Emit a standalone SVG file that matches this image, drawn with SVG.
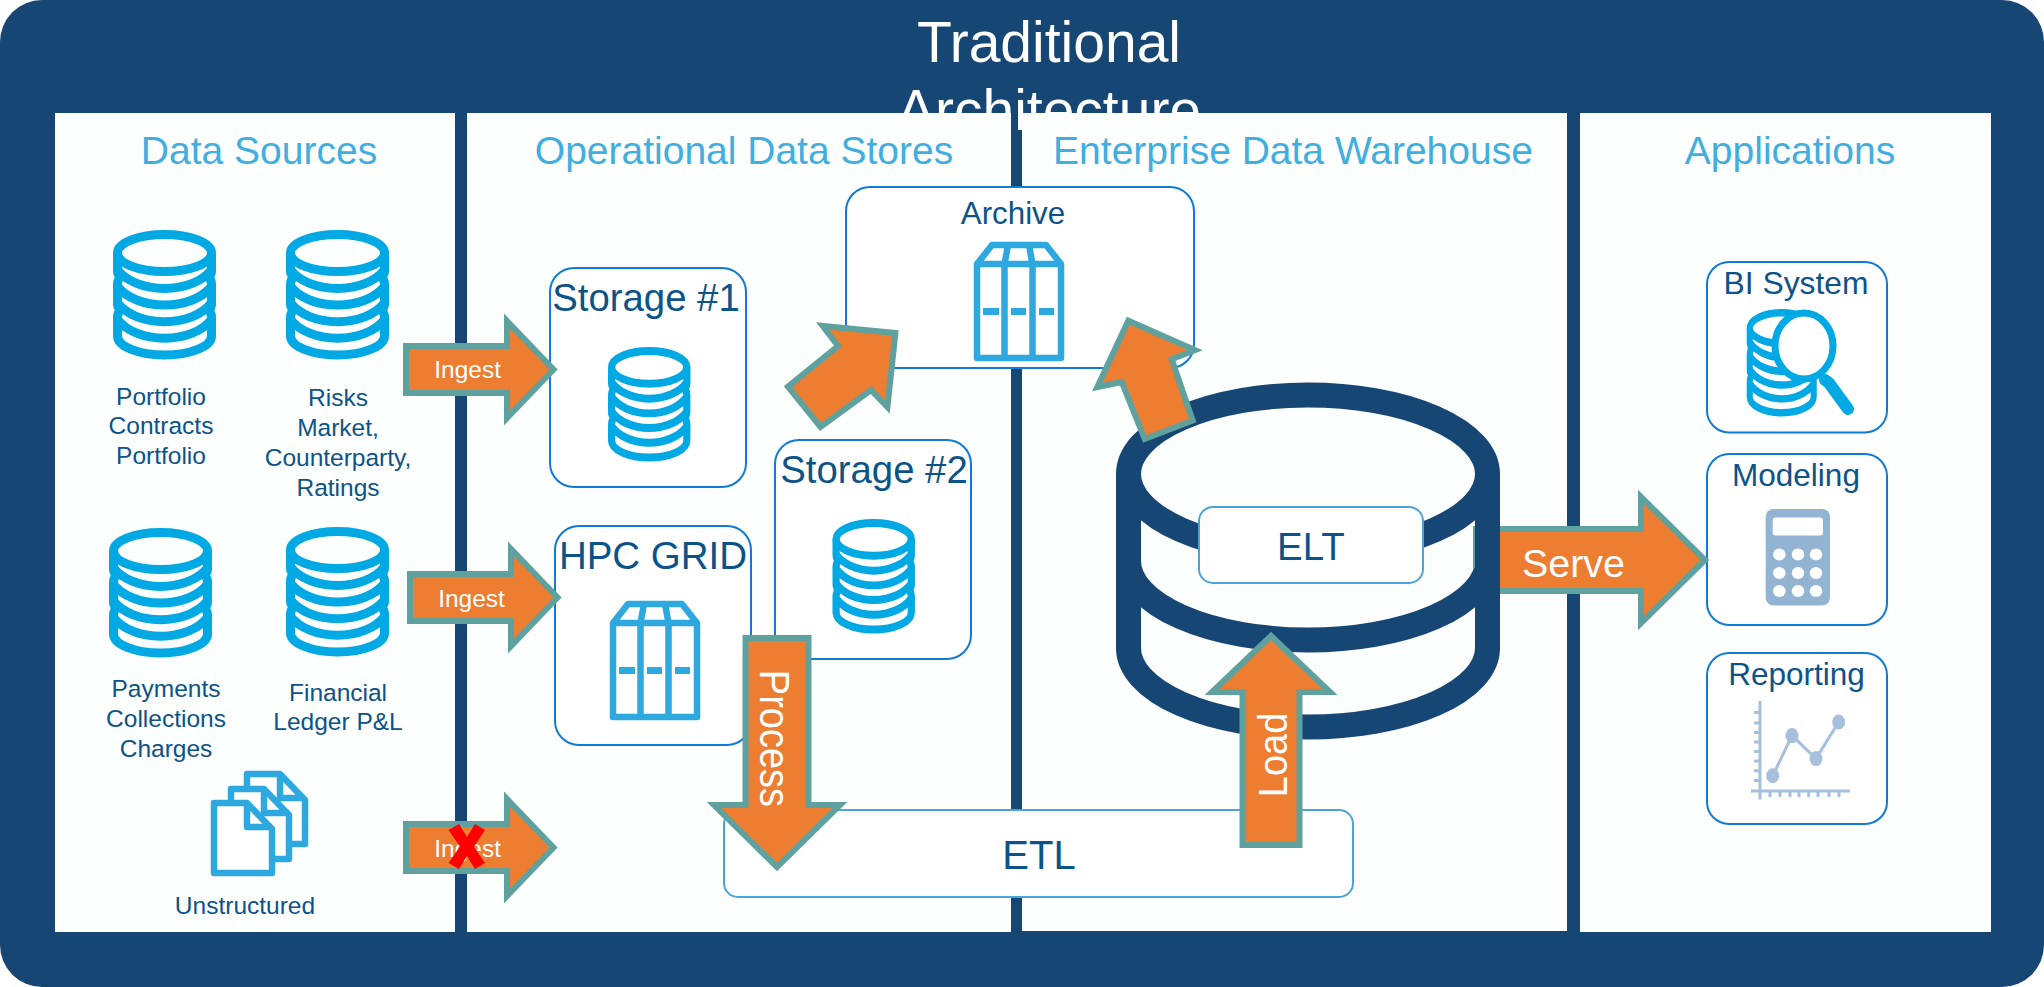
<svg xmlns="http://www.w3.org/2000/svg" width="2044" height="987" viewBox="0 0 2044 987">
<style>
text{font-family:"Liberation Sans",Arial,sans-serif;text-anchor:middle;fill:#0B5388}
.t{fill:#fff}
.h{fill:#41AEE0;font-size:39px}
.s{font-size:24.5px}
.panel{fill:#FDFEFE}
.box{fill:#fff;stroke:#0F7BD4;stroke-width:2}
.box2{fill:#fff;stroke:#4CA4D6;stroke-width:2}
.arrow{fill:#ED7D31;stroke:#5FA19F;stroke-width:6;stroke-miterlimit:10}
.dbs{fill:none;stroke:#00A9E3;stroke-width:9}
.srv{fill:none;stroke:#2EA9E0;stroke-width:6.500;stroke-linejoin:round}
.big{fill:none;stroke:#164674;stroke-width:25}
.chart{fill:none;stroke:#A6C0DB;stroke-width:3}
</style>
<defs>
<g id="db">
<ellipse cx="51.500" cy="23" rx="47" ry="18.500"/>
<path d="M4.500,23V41Q4.500,44.500 7.500,47Q4.500,50 4.500,54V74Q4.500,77.500 7.500,80Q4.500,83 4.500,87V106A47,19 0 0 0 98.500,106V87Q98.500,83 95.500,80Q98.500,77.500 98.500,74V54Q98.500,50 95.500,47Q98.500,44.500 98.500,41V23M4.500,39.600A52,33 0 0 0 98.500,39.600M4.500,56.200A52,33 0 0 0 98.500,56.200M4.500,72.800A52,33 0 0 0 98.500,72.800M4.500,89.400A52,33 0 0 0 98.500,89.400" stroke-linejoin="round"/>
</g>
<g id="server">
<path d="M3,116H87V22L72,3H18L3,22ZM3,22H87M30.500,22V116M58.500,22V116M30.500,22L34,3M58.500,22L55,3"/>
<path d="M9,69.500H25M37,69.500H52M65,69.500H80" stroke-width="7" stroke-linejoin="miter"/>
</g>
<g id="doc">
<path d="M3,3H36L61,29V73H3Z" fill="#fff"/>
<path d="M36,3V27H61" fill="none"/>
</g>
</defs>

<g id="frame">
<rect x="0" y="0" width="2044" height="987" rx="42" fill="#164674"/>
<text class="t" x="1049" y="62" font-size="57">Traditional</text>
<text class="t" x="1049" y="130" font-size="57">Architecture</text>
</g>

<g id="panel-sources"><rect class="panel" x="55" y="113" width="400" height="819"/><text class="h" x="259" y="164">Data Sources</text></g>
<g id="panel-ods"><rect class="panel" x="467" y="113" width="544" height="819"/><text class="h" x="744" y="164">Operational Data Stores</text></g>
<g id="panel-edw"><rect class="panel" x="1022" y="113" width="545" height="818"/><text class="h" x="1293" y="164">Enterprise Data Warehouse</text></g>
<g id="panel-apps"><rect class="panel" x="1580" y="113" width="411" height="819"/><text class="h" x="1790" y="164">Applications</text></g>

<g id="src-portfolio"><use href="#db" class="dbs" x="113" y="230"/><text class="s" x="161" y="405">Portfolio</text><text class="s" x="161" y="434">Contracts</text><text class="s" x="161" y="464">Portfolio</text></g>
<g id="src-risks"><use href="#db" class="dbs" x="286" y="230"/><text class="s" x="338" y="406">Risks</text><text class="s" x="338" y="436">Market,</text><text class="s" x="338" y="466">Counterparty,</text><text class="s" x="338" y="496">Ratings</text></g>
<g id="src-payments"><use href="#db" class="dbs" x="109" y="528"/><text class="s" x="166" y="697">Payments</text><text class="s" x="166" y="727">Collections</text><text class="s" x="166" y="757">Charges</text></g>
<g id="src-financial"><use href="#db" class="dbs" x="286" y="527"/><text class="s" x="338" y="701">Financial</text><text class="s" x="338" y="730">Ledger P&amp;L</text></g>
<g id="src-unstructured" class="srv">
<use href="#doc" x="244" y="771"/><use href="#doc" x="228" y="786"/><use href="#doc" x="211" y="800"/>
<text class="s" x="245" y="914" style="stroke:none">Unstructured</text></g>

<g id="storage-1"><rect class="box" x="550" y="268" width="196" height="219" rx="24"/><text x="646" y="311" font-size="38.300">Storage #1</text><use href="#db" class="dbs" transform="translate(608,347) scale(.8,.884)"/></g>
<g id="storage-2"><rect class="box" x="775" y="440" width="196" height="219" rx="24"/><text x="874" y="483" font-size="38.300">Storage #2</text><use href="#db" class="dbs" transform="translate(832.500,519) scale(.8,.884)"/></g>
<g id="hpc-grid"><rect class="box" x="555" y="526" width="196" height="219" rx="24"/><text x="653" y="569" font-size="38.500">HPC GRID</text><use href="#server" class="srv" x="610" y="601"/></g>
<g id="archive"><rect class="box" x="846" y="187" width="348" height="181" rx="24"/><text x="1013" y="224" font-size="31.300">Archive</text><use href="#server" class="srv" x="974" y="242"/></g>
<g id="etl"><rect class="box2" x="724" y="810" width="629" height="87" rx="14"/><text x="1039" y="869" font-size="40">ETL</text></g>

<g id="warehouse">
<g class="big"><ellipse cx="1308" cy="474" rx="179.500" ry="79"/><path d="M1128.500,474V648A179.500,79 0 0 0 1487.500,648V474M1128.500,561A179.500,79 0 0 0 1487.500,561"/></g>
</g>
<g id="elt"><rect class="box2" x="1199" y="507" width="224" height="76" rx="14"/><text x="1311" y="559.500" font-size="38.500">ELT</text></g>

<g id="bi-system"><rect class="box" x="1707" y="262" width="180" height="170.500" rx="22"/><text x="1796" y="293.500" font-size="31.800">BI System</text>
<use href="#db" class="dbs" transform="translate(1746.700,309) scale(.68,.83)"/>
<path d="M1825,380L1829,383L1848,409" fill="none" stroke="#00A9E3" stroke-width="12" stroke-linecap="round"/>
<ellipse cx="1804" cy="346" rx="29" ry="33" fill="#fff" stroke="#00A9E3" stroke-width="7"/></g>
<g id="modeling"><rect class="box" x="1707" y="454" width="180" height="171" rx="22"/><text x="1796" y="485.500" font-size="31.500">Modeling</text>
<rect x="1765.700" y="509" width="64.300" height="96.500" rx="8" fill="#92B4D2"/><rect x="1772.700" y="517.500" width="50.300" height="18" rx="3" fill="#fff"/>
<g fill="#fff"><ellipse cx="1779.300" cy="554.600" rx="6.300" ry="6"/><ellipse cx="1798" cy="554.600" rx="6.300" ry="6"/><ellipse cx="1816" cy="554.600" rx="6.300" ry="6"/><ellipse cx="1779.300" cy="573" rx="6.300" ry="6"/><ellipse cx="1798" cy="573" rx="6.300" ry="6"/><ellipse cx="1816" cy="573" rx="6.300" ry="6"/><ellipse cx="1779.300" cy="591" rx="6.300" ry="6"/><ellipse cx="1798" cy="591" rx="6.300" ry="6"/><ellipse cx="1816" cy="591" rx="6.300" ry="6"/></g></g>
<g id="reporting"><rect class="box" x="1707" y="653" width="180" height="171" rx="22"/><text x="1796.500" y="684.500" font-size="31.500">Reporting</text>
<path class="chart" d="M1760,701V799.500M1751,791H1850M1754,712.600H1760M1754,723H1760M1754,732.500H1760M1754,742H1760M1754,751.600H1760M1754,761H1760M1754,770.800H1760M1754,780.400H1760M1770,791V797M1780,791V797M1790,791V797M1799,791V797M1808.700,791V797M1818,791V797M1829,791V797M1839,791V797M1772.700,775.800L1792,735.600L1816,758.600L1838.700,722"/>
<g fill="#A6C0DB"><ellipse cx="1772.700" cy="775.800" rx="6.500" ry="7.500"/><ellipse cx="1792" cy="735.600" rx="6.500" ry="7.500"/><ellipse cx="1816" cy="758.600" rx="6.500" ry="7.500"/><ellipse cx="1838.700" cy="722" rx="6.500" ry="7.500"/></g></g>

<g id="connectors">
<path class="arrow" d="M406,346H507V321L553.500,369.500L507,418V393H406Z"/>
<text class="t" x="467.600" y="378" font-size="24.500">Ingest</text>
<path class="arrow" d="M410,574H511V549L557.500,597.500L511,646V621H410Z"/>
<text class="t" x="471.500" y="606.500" font-size="24.500">Ingest</text>
<path class="arrow" d="M406,824H507V799L553.500,847.500L507,896V871H406Z"/>
<text class="t" x="467.600" y="856.500" font-size="24.500">Ingest</text>
<polygon fill="#FF0000" points="448.500,830 459,824 467,837 475,824 485,830 474,846.500 485,863 475,869 467,856 459,869 448.500,863 460,846.500"/>
<path class="arrow" d="M745.500,638H808.500V805H840L777,867L714,805H745.500Z"/>
<text class="t" transform="translate(760,738.500) rotate(90) scale(1,1.1)" font-size="38">Process</text>
<path class="arrow" d="M788,386.700L838,346L822.700,326L895.400,333L887.400,407L871,390L820.500,427Z"/>
<path class="arrow" d="M1144.700,439L1121.700,382L1097.300,387L1128.300,320.700L1195,350L1171.700,359.300L1192.700,420.500Z"/>
<path class="arrow" d="M1500,529H1641V497L1705,560L1641,623V591H1500"/>
<line x1="1474" y1="526" x2="1474" y2="568" stroke="#5FA19F" stroke-width="2"/>
<text class="t" x="1573.500" y="577" font-size="39.500">Serve</text>
<path class="arrow" d="M1242.500,845V692H1212L1271,636L1330,692H1299.500V845Z"/>
<text class="t" transform="translate(1286.500,755) rotate(-90) scale(1,1.08)" font-size="38">Load</text>
</g>
</svg>
